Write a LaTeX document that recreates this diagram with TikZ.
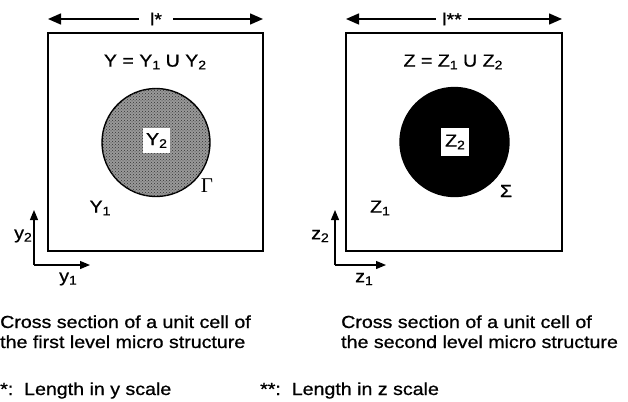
\documentclass[tikz,border=0pt]{standalone}
\usepackage{fontspec}
\setmainfont{Liberation Sans}[FakeStretch=1.12,FakeBold=0.8]
\newfontfamily\greekserif{Liberation Serif}
\usetikzlibrary{arrows.meta,patterns}
\newcommand\sbs[1]{\raisebox{-0.3ex}{\fontsize{12.5}{12.5}\selectfont #1}}
\begin{document}
\begin{tikzpicture}[x=1pt,y=-1pt,
  lbl/.style={font=\fontsize{17.5}{20}\selectfont, inner sep=0pt},
  cellbox/.style={draw, line width=1.1pt, minimum width=215pt, minimum height=218pt, inner sep=0pt},
  incl/.style={circle, draw, line width=1.4pt, minimum size=108pt, inner sep=0pt},
  whitebox/.style={lbl, fill=white, minimum width=27pt, minimum height=25pt},
  dimarrow/.style={line width=1.4pt, -{Triangle[length=13pt,width=11pt]}},
  axarrow/.style={line width=1.2pt, -{Triangle[length=10pt,width=8pt]}}]
\useasboundingbox (0,0) rectangle (628,401);

% ---------- left cell ----------
\node[cellbox] (boxL) at (155.5,142) {};
\coordinate (dL1) at (48,19);
\coordinate (dL2) at (263,19);
\node[lbl, inner xsep=11pt] (lenL) at (156,19) {l*};
\draw[dimarrow] (lenL.west) -- (dL1);
\draw[dimarrow] (lenL.east) -- (dL2);
\node[lbl] (eqL) at (155,62) {Y = Y\sbs{1} U Y\sbs{2}};
\node[incl, fill=black!40, postaction={pattern=crosshatch dots, pattern color=black!80}] (incL) at (156,142.5) {};
\node[whitebox] (y2L) at (156.5,140.5) {Y\sbs{2}};
\node[lbl, font=\fontsize{21}{21}\selectfont] (gam) at (207,186) {\greekserif Γ};
\node[lbl] (y1L) at (100,208) {Y\sbs{1}};
\coordinate (oL) at (34,265);
\coordinate (upL) at (34,210);
\coordinate (rtL) at (90,265);
\draw[axarrow] (oL) -- (upL);
\draw[axarrow] (oL) -- (rtL);
\node[lbl] (ay2) at (23,236) {y\sbs{2}};
\node[lbl] (ay1) at (68,279) {y\sbs{1}};
\node[lbl, anchor=base west, align=left] (capL) at (0,348) {Cross section of a unit cell of\\the first level micro structure};

% ---------- right cell ----------
\node[cellbox, minimum width=216pt] (boxR) at (454,142) {};
\coordinate (dR1) at (346,19);
\coordinate (dR2) at (562,19);
\node[lbl, inner xsep=6pt] (lenR) at (452,19) {l**};
\draw[dimarrow] (lenR.west) -- (dR1);
\draw[dimarrow] (lenR.east) -- (dR2);
\node[lbl] (eqR) at (453,62) {Z = Z\sbs{1} U Z\sbs{2}};
\node[incl, fill=black, minimum size=109pt] (incR) at (454.5,142) {};
\node[whitebox, minimum width=28pt, minimum height=28pt] (z2R) at (455,142) {Z\sbs{2}};
\node[lbl] (sig) at (506,191) {Σ};
\node[lbl] (z1R) at (380,208) {Z\sbs{1}};
\coordinate (oR) at (335,265);
\coordinate (upR) at (335,210);
\coordinate (rtR) at (386,265);
\draw[axarrow] (oR) -- (upR);
\draw[axarrow] (oR) -- (rtR);
\node[lbl] (az2) at (320,236) {z\sbs{2}};
\node[lbl] (az1) at (364,279) {z\sbs{1}};
\node[lbl, anchor=base west, align=left] (capR) at (341,348) {Cross section of a unit cell of\\the second level micro structure};

% ---------- footnotes ----------
\node[lbl, anchor=base west] (fn1) at (0,395) {*:\ \ Length in y scale};
\node[lbl, anchor=base west] (fn2) at (260,395) {**:\ \ Length in z scale};
\end{tikzpicture}
\end{document}
